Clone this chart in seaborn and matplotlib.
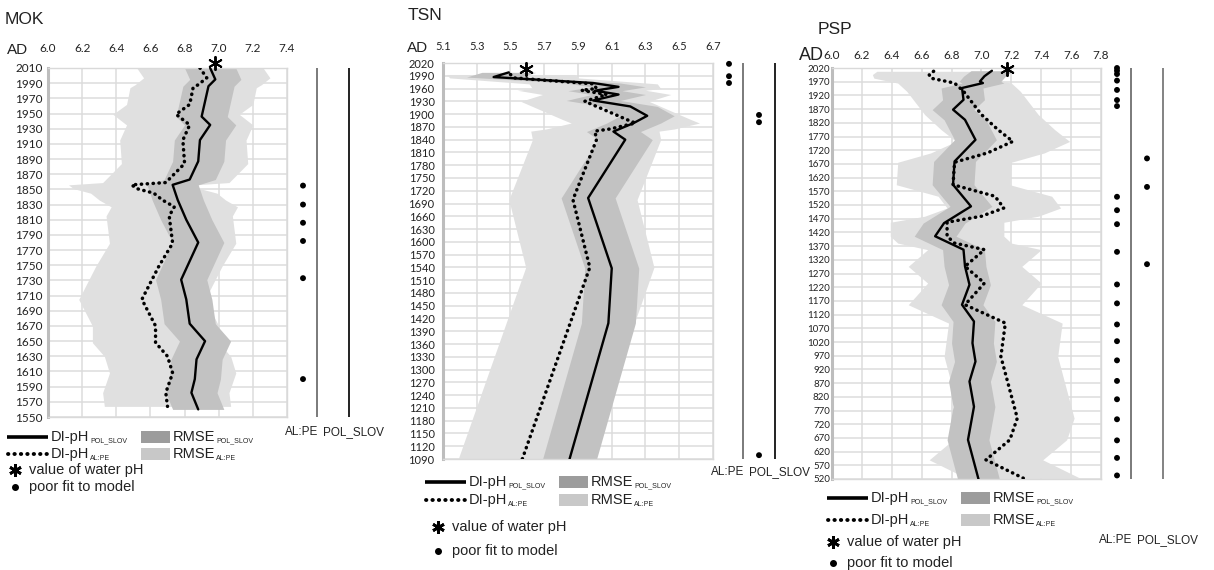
import numpy as np
import pandas as pd
import matplotlib.pyplot as plt
import seaborn as sns
from matplotlib.patches import Rectangle

# --- MOK ---
mok_pol_year = [2010, 1995, 1986, 1946, 1935, 1915, 1887, 1863, 1856, 1836, 1810, 1780,
                1731, 1705, 1673, 1650, 1626, 1600, 1582, 1560]
mok_pol_ph = [6.95, 6.98, 6.94, 6.90, 6.95, 6.89, 6.88, 6.83, 6.73, 6.76, 6.81, 6.88,
              6.78, 6.81, 6.83, 6.92, 6.87, 6.86, 6.84, 6.88]
mok_alpe_year = [2010, 1997, 1988, 1984, 1962, 1949, 1935, 1915, 1884, 1859, 1856, 1851,
                 1845, 1836, 1827, 1815, 1779, 1749, 1705, 1670, 1648, 1630, 1608, 1582, 1564]
mok_alpe_ph = [6.89, 6.93, 6.88, 6.85, 6.83, 6.75, 6.83, 6.79, 6.80, 6.69, 6.49, 6.52,
               6.62, 6.67, 6.74, 6.71, 6.73, 6.65, 6.55, 6.63, 6.63, 6.70, 6.73, 6.69, 6.70]
mok_rmse = [0.15, 0.37]          # POL_SLOV, AL:PE
mok_water = [6.98, 2017]         # pH, year
mok_fit_alpe = [1855, 1830, 1806, 1782, 1733, 1600]
mok_fit_pol = []

# --- TSN ---
tsn_pol_year = [1998, 1987, 1973, 1964, 1955, 1946, 1932, 1918, 1896, 1879, 1859, 1840,
                1703, 1538, 1409, 1090]
tsn_pol_ph = [5.49, 5.40, 5.99, 6.14, 6.00, 6.14, 5.99, 6.21, 6.31, 6.23, 6.11, 6.18,
              5.96, 6.10, 6.08, 5.85]
tsn_alpe_year = [1993, 1985, 1971, 1960, 1956, 1946, 1930, 1887, 1879, 1865, 1860, 1840,
                 1699, 1540, 1090]
tsn_alpe_ph = [5.50, 5.52, 5.99, 6.01, 5.92, 6.07, 5.94, 6.19, 6.24, 6.09, 6.00, 6.01,
               5.87, 5.97, 5.57]
tsn_rmse = [0.16, 0.38]
tsn_water = [5.59, 2006]
tsn_fit_alpe = [2018, 1989, 1973]
tsn_fit_pol = [1898, 1881, 1099]

# --- PSP ---
psp_pol_year = [2010, 1990, 1971, 1965, 1947, 1904, 1868, 1831, 1758, 1679, 1594, 1515,
                1454, 1406, 1357, 1296, 1229, 1156, 1095, 1016, 949, 876, 784, 663, 520]
psp_pol_ph = [7.07, 7.02, 6.99, 7.01, 6.87, 6.88, 6.81, 6.89, 6.96, 6.82, 6.81, 6.93,
              6.75, 6.69, 6.88, 6.89, 6.92, 6.87, 6.95, 6.94, 6.96, 6.92, 6.95, 6.91, 6.98]
psp_alpe_year = [2008, 1996, 1983, 1965, 1935, 1850, 1795, 1752, 1710, 1676, 1594, 1552,
                 1509, 1479, 1457, 1406, 1381, 1357, 1296, 1235, 1156, 1089, 967, 742,
                 663, 590, 523]
psp_alpe_ph = [6.68, 6.65, 6.66, 6.82, 6.88, 7.00, 7.11, 7.21, 7.04, 6.82, 6.81, 7.09,
               7.15, 7.00, 6.77, 6.77, 6.82, 7.02, 6.89, 7.02, 6.89, 7.16, 7.13, 7.24,
               7.19, 7.03, 7.28]
psp_rmse = [0.14, 0.38]
psp_water = [7.17, 2016]
psp_fit_alpe = [2020, 2010, 1998, 1974, 1940, 1903, 1881, 1550, 1501, 1450, 1349, 1230,
                1161, 1084, 1023, 953, 878, 811, 738, 661, 597, 533]
psp_fit_pol = [1690, 1586, 1304]

W, H = 1214, 570
LIGHT, DARK = '#e0e0e0', '#c2c2c2'
LIGHT_LEG, DARK_LEG = '#c8c8c8', '#9c9c9c'
DOTS = (0, (0.1, 1.6))
TXT = '#222222'

sns.set_style('white')
plt.rcParams['font.family'] = ['Liberation Sans', 'DejaVu Sans']

fig = plt.figure(figsize=(W / 100, H / 100), dpi=100)
renderer = fig.canvas.get_renderer()


def box(l, t, r, b):
    return [l / W, 1 - b / H, (r - l) / W, (b - t) / H]


def ftext(x, y, s, **kw):
    fig.text(x / W, 1 - y / H, s, **kw)


def sub_text(x, y, main, sub, fs):
    # main text with a tiny subscript placed right after it
    t = ov.text(x, y, main, fontsize=fs, va='center', color=TXT)
    bb = t.get_window_extent(renderer)
    x1 = ov.transData.inverted().transform((bb.x1, bb.y0))[0]
    ov.text(x1 + 1, y + 4, sub, fontsize=fs * 0.48, va='center', color=TXT)


def draw_panel(title, pol_year, pol_ph, alpe_year, alpe_ph, rmse, water,
               fit_alpe, fit_pol, xticks, yticks, lay):
    l, t, r, b = lay['box']
    ax = fig.add_axes(box(l, t, r, b))
    pol = np.array(pol_ph)
    alpe = np.array(alpe_ph)
    ax.fill_betweenx(alpe_year, alpe - rmse[1], alpe + rmse[1], color=LIGHT, lw=0, zorder=1)
    ax.fill_betweenx(pol_year, pol - rmse[0], pol + rmse[0], color=DARK, lw=0, zorder=2)
    sns.lineplot(x=alpe_ph, y=alpe_year, orient='y', sort=False, estimator=None,
                 color='black', lw=2.5, ls=DOTS, dash_capstyle='round', ax=ax, zorder=4)
    sns.lineplot(x=pol_ph, y=pol_year, orient='y', sort=False, estimator=None,
                 color='black', lw=1.7, ax=ax, zorder=5)
    sns.scatterplot(x=[water[0]], y=[water[1]], marker=(6, 2, 0), s=90, color='black',
                    edgecolor='black', linewidth=1.4, ax=ax, zorder=6, clip_on=False)

    ax.set_xlim(xticks[0], xticks[-1])
    ax.set_ylim(min(yticks), max(yticks))
    ax.set_xticks(xticks)
    ax.set_xticklabels([f'{v:.1f}' for v in xticks])
    ax.set_yticks(yticks)
    ax.set_yticklabels([str(v) for v in yticks])
    ax.xaxis.tick_top()
    ax.tick_params(axis='x', length=0, pad=lay['xpad'], labelsize=lay['xfs'],
                   labelcolor=TXT, labelfontfamily='Lato')
    ax.tick_params(axis='y', length=0, pad=lay['ypad'], labelsize=lay['yfs'],
                   labelcolor=TXT, labelfontfamily='Lato')
    ax.set_axisbelow(True)
    ax.grid(True, color='#dcdcdc', lw=1.1, zorder=0)
    ax.set_xlabel('')
    ax.set_ylabel('')
    for s in ax.spines.values():
        s.set_color('#d9d9d9')
        s.set_linewidth(1)
    ax.spines['left'].set_color('#bdbdbd')
    ax.spines['left'].set_linewidth(2.2)

    # poor-fit columns
    fa = fig.add_axes(box(r, t, r + 80, b), sharey=ax)
    fa.set_xlim(0, 80)
    fa.axis('off')
    col_x = {'AL:PE': 16, 'POL_SLOV': 46}
    fit = pd.DataFrame({'model': ['AL:PE'] * len(fit_alpe) + ['POL_SLOV'] * len(fit_pol),
                        'year': list(fit_alpe) + list(fit_pol)})
    fit['x'] = fit['model'].map(col_x)
    fa.axvline(30, color='#7a7a7a', lw=1.4)
    fa.axvline(62, color=lay['line2'], lw=1.3)
    if len(fit):
        sns.scatterplot(data=fit, x='x', y='year', color='black', s=18, edgecolor='none',
                        ax=fa, clip_on=False, zorder=5)
    fa.set_ylim(min(yticks), max(yticks))
    ly = lay['lab_y']
    ftext(r + 15, ly, 'AL:PE', fontsize=8.5, ha='center', va='center', color=TXT)
    ftext(r + 66, ly, 'POL_SLOV', fontsize=8.5, ha='center', va='center', color=TXT)

    # titles
    tx, ty = lay['title']
    ftext(tx, ty, title, fontsize=12.5, va='center', color=TXT)
    ad_x, ad_y, ad_fs = lay['ad']
    ftext(ad_x, ad_y, 'AD', fontsize=ad_fs, va='center', color=TXT)

    # legend
    x0, y1, y2, y3, y4, sdx = lay['leg']
    ov.plot([x0, x0 + 41], [y1, y1], color='black', lw=2.6, solid_capstyle='butt')
    ov.plot([x0 + 1, x0 + 40], [y2, y2], color='black', lw=2.8, ls=(0, (0.1, 1.55)),
            dash_capstyle='round')
    sub_text(x0 + 44, y1, 'DI-pH', 'POL_SLOV', 10.5)
    sub_text(x0 + 44, y2, 'DI-pH', 'AL:PE', 10.5)
    ov.add_patch(Rectangle((x0 + 134, y1 - 6), 29, 12, color=DARK_LEG, lw=0))
    ov.add_patch(Rectangle((x0 + 134, y2 - 6), 29, 12, color=LIGHT_LEG, lw=0))
    sub_text(x0 + 166, y1, 'RMSE', 'POL_SLOV', 10.5)
    sub_text(x0 + 166, y2, 'RMSE', 'AL:PE', 10.5)
    ov.plot([x0 + sdx], [y3], marker=(6, 2, 0), ms=9, mew=2, color='black')
    ov.plot([x0 + sdx], [y4], marker='o', ms=4, color='black')
    ov.text(x0 + sdx + 14, y3, 'value of water pH', fontsize=10.5, va='center', color=TXT)
    ov.text(x0 + sdx + 14, y4, 'poor fit to model', fontsize=10.5, va='center', color=TXT)
    return ax


ov = fig.add_axes([0, 0, 1, 1], zorder=10)
ov.set_xlim(0, W)
ov.set_ylim(H, 0)
ov.axis('off')

draw_panel('MOK', mok_pol_year, mok_pol_ph, mok_alpe_year, mok_alpe_ph, mok_rmse, mok_water,
           mok_fit_alpe, mok_fit_pol, np.round(np.arange(6.0, 7.41, 0.2), 1),
           list(range(1550, 2011, 20)),
           {'box': (48, 68, 287, 417), 'xpad': 10, 'ypad': 4, 'xfs': 8.5, 'yfs': 8.5,
            'line2': '#111111', 'lab_y': 432, 'title': (5, 20), 'ad': (7, 50, 11),
            'leg': (7, 437, 454, 470, 487, 8)})

draw_panel('TSN', tsn_pol_year, tsn_pol_ph, tsn_alpe_year, tsn_alpe_ph, tsn_rmse, tsn_water,
           tsn_fit_alpe, tsn_fit_pol, np.round(np.arange(5.1, 6.71, 0.2), 1),
           list(range(1090, 2021, 30)),
           {'box': (443, 63, 713, 459), 'xpad': 8, 'ypad': 6, 'xfs': 8, 'yfs': 8,
            'line2': '#111111', 'lab_y': 472, 'title': (408, 15), 'ad': (407, 48, 11),
            'leg': (425, 482, 500, 527, 551, 13)})

draw_panel('PSP', psp_pol_year, psp_pol_ph, psp_alpe_year, psp_alpe_ph, psp_rmse, psp_water,
           psp_fit_alpe, psp_fit_pol, np.round(np.arange(6.0, 7.81, 0.2), 1),
           list(range(520, 2021, 50)),
           {'box': (832, 68, 1101, 479), 'xpad': 5, 'ypad': 1.5, 'xfs': 8.5, 'yfs': 7,
            'line2': '#7a7a7a', 'lab_y': 540, 'title': (818, 29), 'ad': (799, 55, 13),
            'leg': (827, 498, 520, 542, 563, 6)})

fig.savefig('out.png', dpi=100)
